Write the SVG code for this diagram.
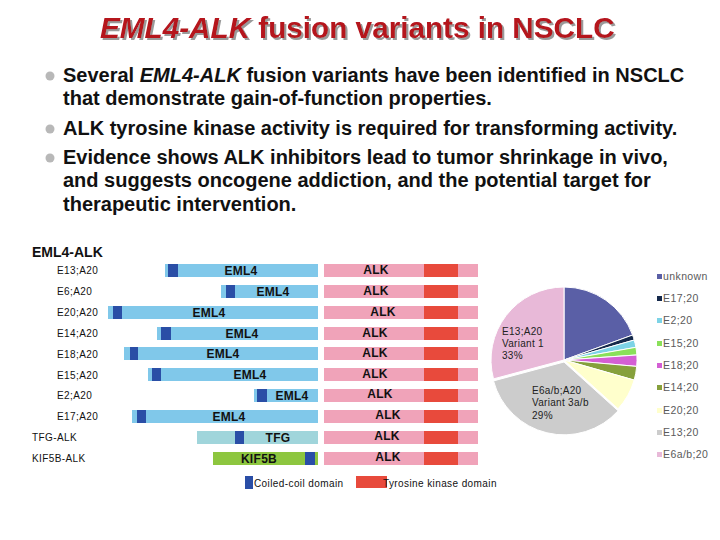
<svg xmlns="http://www.w3.org/2000/svg" width="720" height="540" viewBox="0 0 720 540">
<defs>
<filter id="tshadow" x="-5%" y="-20%" width="110%" height="150%">
<feDropShadow dx="2" dy="2" stdDeviation="0.6" flood-color="#9a9a9a" flood-opacity="1"/>
</filter>
</defs>
<style>
.title{font-family:"Liberation Sans",Arial,sans-serif;font-size:29.7px;font-weight:bold;fill:#b5121b}
.bul{font-family:"Liberation Sans",Arial,sans-serif;font-size:20px;font-weight:bold;fill:#111}
.dot{fill:#b8b8b8}
.rl{font-family:"Liberation Sans",Arial,sans-serif;font-size:10px;letter-spacing:0.4px;fill:#111}
.bl{font-family:"Liberation Sans",Arial,sans-serif;font-size:12px;font-weight:bold;fill:#111;text-anchor:middle;letter-spacing:0.3px}
.eml{fill:#80c8ea}
.cc{fill:#2a4ea6}
.alk{fill:#f0a3b9}
.tk{fill:#e84a3c}
.lg{font-family:"Liberation Sans",Arial,sans-serif;font-size:10.5px;letter-spacing:0.4px;fill:#5a5a5a}
.pl{font-family:"Liberation Sans",Arial,sans-serif;font-size:10px;letter-spacing:0.3px;fill:#222}
.sl{stroke:#fff;stroke-width:1}
</style>

<g id="title">
<text class="title" x="100" y="38" filter="url(#tshadow)"><tspan font-style="italic">EML4-ALK</tspan> fusion variants in NSCLC</text>
</g>

<g id="bullets">
<circle class="dot" cx="50" cy="76" r="4.5"/>
<text class="bul" x="63" y="82">Several <tspan font-style="italic">EML4-ALK</tspan> fusion variants have been identified in NSCLC</text>
<text class="bul" x="63" y="105">that demonstrate gain-of-function properties.</text>
<circle class="dot" cx="50" cy="129" r="4.5"/>
<text class="bul" x="63" y="135">ALK tyrosine kinase activity is required for transforming activity.</text>
<circle class="dot" cx="50" cy="158" r="4.5"/>
<text class="bul" x="63" y="164">Evidence shows ALK inhibitors lead to tumor shrinkage in vivo,</text>
<text class="bul" x="63" y="187">and suggests oncogene addiction, and the potential target for</text>
<text class="bul" x="63" y="211">therapeutic intervention.</text>
</g>

<g id="heading">
<text x="32" y="257" font-family="Liberation Sans, Arial, sans-serif" font-size="14" font-weight="bold" fill="#111">EML4-ALK</text>
</g>

<g id="row-E13A20">
<text class="rl" x="57" y="274">E13;A20</text>
<rect class="eml" x="165" y="264" width="153" height="13"/>
<rect class="cc" x="168" y="264" width="10" height="13"/>
<text class="bl" x="241" y="275">EML4</text>
<rect class="alk" x="324" y="264" width="154" height="13"/>
<rect class="tk" x="424" y="264" width="34" height="13"/>
<text class="bl" x="376" y="274">ALK</text>
</g>

<g id="row-E6A20">
<text class="rl" x="57" y="295">E6;A20</text>
<rect class="eml" x="221" y="285" width="97" height="13"/>
<rect class="cc" x="226" y="285" width="9" height="13"/>
<text class="bl" x="273" y="296">EML4</text>
<rect class="alk" x="324" y="285" width="154" height="13"/>
<rect class="tk" x="424" y="285" width="34" height="13"/>
<text class="bl" x="376" y="295">ALK</text>
</g>

<g id="row-E20A20">
<text class="rl" x="57" y="316">E20;A20</text>
<rect class="eml" x="108" y="306" width="210" height="13"/>
<rect class="cc" x="113" y="306" width="9" height="13"/>
<text class="bl" x="209" y="317">EML4</text>
<rect class="alk" x="324" y="306" width="154" height="13"/>
<rect class="tk" x="424" y="306" width="34" height="13"/>
<text class="bl" x="383" y="316">ALK</text>
</g>

<g id="row-E14A20">
<text class="rl" x="57" y="337">E14;A20</text>
<rect class="eml" x="157" y="327" width="161" height="13"/>
<rect class="cc" x="161" y="327" width="10" height="13"/>
<text class="bl" x="242" y="338">EML4</text>
<rect class="alk" x="324" y="327" width="154" height="13"/>
<rect class="tk" x="424" y="327" width="34" height="13"/>
<text class="bl" x="375" y="337">ALK</text>
</g>

<g id="row-E18A20">
<text class="rl" x="57" y="358">E18;A20</text>
<rect class="eml" x="124" y="347" width="194" height="13"/>
<rect class="cc" x="130" y="347" width="8" height="13"/>
<text class="bl" x="223" y="358">EML4</text>
<rect class="alk" x="324" y="347" width="154" height="13"/>
<rect class="tk" x="424" y="347" width="34" height="13"/>
<text class="bl" x="375" y="357">ALK</text>
</g>

<g id="row-E15A20">
<text class="rl" x="57" y="379">E15;A20</text>
<rect class="eml" x="148" y="368" width="170" height="13"/>
<rect class="cc" x="152" y="368" width="9" height="13"/>
<text class="bl" x="250" y="379">EML4</text>
<rect class="alk" x="324" y="368" width="154" height="13"/>
<rect class="tk" x="424" y="368" width="34" height="13"/>
<text class="bl" x="375" y="378">ALK</text>
</g>

<g id="row-E2A20">
<text class="rl" x="57" y="399">E2;A20</text>
<rect class="eml" x="254" y="389" width="64" height="13"/>
<rect class="cc" x="257" y="389" width="10" height="13"/>
<text class="bl" x="292" y="400">EML4</text>
<rect class="alk" x="324" y="389" width="154" height="13"/>
<rect class="tk" x="424" y="389" width="34" height="13"/>
<text class="bl" x="380" y="398">ALK</text>
</g>

<g id="row-E17A20">
<text class="rl" x="57" y="420">E17;A20</text>
<rect class="eml" x="132" y="410" width="186" height="13"/>
<rect class="cc" x="137" y="410" width="9" height="13"/>
<text class="bl" x="229" y="421">EML4</text>
<rect class="alk" x="324" y="410" width="154" height="13"/>
<rect class="tk" x="424" y="410" width="34" height="13"/>
<text class="bl" x="388" y="419">ALK</text>
</g>

<g id="row-TFG-ALK">
<text class="rl" x="32" y="441">TFG-ALK</text>
<rect x="197" y="431" width="121" height="13" fill="#a0d5db"/>
<rect class="cc" x="235" y="431" width="9" height="13"/>
<text class="bl" x="278" y="442">TFG</text>
<rect class="alk" x="324" y="431" width="154" height="13"/>
<rect class="tk" x="424" y="431" width="34" height="13"/>
<text class="bl" x="387" y="440">ALK</text>
</g>

<g id="row-KIF5B-ALK">
<text class="rl" x="32" y="462">KIF5B-ALK</text>
<rect x="213" y="452" width="105" height="13" fill="#8dc63f"/>
<rect class="cc" x="305" y="452" width="10" height="13"/>
<text class="bl" x="259" y="463">KIF5B</text>
<rect class="alk" x="324" y="452" width="154" height="13"/>
<rect class="tk" x="424" y="452" width="34" height="13"/>
<text class="bl" x="388" y="461">ALK</text>
</g>

<g id="domain-legend">
<rect class="cc" x="245" y="476" width="8" height="13"/>
<text class="rl" x="254" y="487">Coiled-coil domain</text>
<rect class="tk" x="356" y="476" width="31" height="12"/>
<text class="rl" x="383" y="487">Tyrosine kinase domain</text>
</g>

<g id="pie">
<path class="sl" fill="#5a5fa6" d="M564,360 L564,287 A73,73 0 0 1 632.6,335.0 Z"/>
<path class="sl" fill="#15294b" d="M564,360 L632.6,335.0 A73,73 0 0 1 634.2,340.0 Z"/>
<path class="sl" fill="#7dd3e6" d="M564,360 L634.2,340.0 A73,73 0 0 1 635.9,347.3 Z"/>
<path class="sl" fill="#8ae05a" d="M564,360 L635.9,347.3 A73,73 0 0 1 636.9,354.9 Z"/>
<path class="sl" fill="#d45fd4" d="M564,360 L636.9,355.0 A73,73 0 0 1 636.7,366.4 Z"/>
<path class="sl" fill="#86a03c" d="M564,360 L636.7,366.4 A73,73 0 0 1 634.2,380.1 Z"/>
<path class="sl" fill="#ffffcc" d="M564,360 L634.2,380.1 A73,73 0 0 1 618.1,408.8 Z"/>
<path class="sl" fill="#cccccc" d="M564,362 L618.1,410.8 A73,73 0 0 1 493.5,380.9 Z"/>
<path class="sl" fill="#e8b9d8" d="M564,360 L493.5,378.9 A73,73 0 0 1 564,287 Z"/>
<text class="pl" x="502" y="335">E13;A20</text>
<text class="pl" x="502" y="347">Variant 1</text>
<text class="pl" x="502" y="359">33%</text>
<text class="pl" x="532" y="394">E6a/b;A20</text>
<text class="pl" x="532" y="406">Variant 3a/b</text>
<text class="pl" x="532" y="419">29%</text>
</g>

<g id="pie-legend">
<rect x="657" y="274" width="5" height="5" fill="#5a5fa6"/><text class="lg" x="663" y="280">unknown</text>
<rect x="657" y="296" width="5" height="5" fill="#15294b"/><text class="lg" x="663" y="302">E17;20</text>
<rect x="657" y="318" width="5" height="5" fill="#7dd3e6"/><text class="lg" x="663" y="324">E2;20</text>
<rect x="657" y="341" width="5" height="5" fill="#8ae05a"/><text class="lg" x="663" y="347">E15;20</text>
<rect x="657" y="363" width="5" height="5" fill="#d45fd4"/><text class="lg" x="663" y="369">E18;20</text>
<rect x="657" y="385" width="5" height="5" fill="#86a03c"/><text class="lg" x="663" y="391">E14;20</text>
<rect x="657" y="408" width="5" height="5" fill="#ffffcc"/><text class="lg" x="663" y="414">E20;20</text>
<rect x="657" y="430" width="5" height="5" fill="#cccccc"/><text class="lg" x="663" y="436">E13;20</text>
<rect x="657" y="452" width="5" height="5" fill="#e8b9d8"/><text class="lg" x="663" y="458">E6a/b;20</text>
</g>
</svg>
